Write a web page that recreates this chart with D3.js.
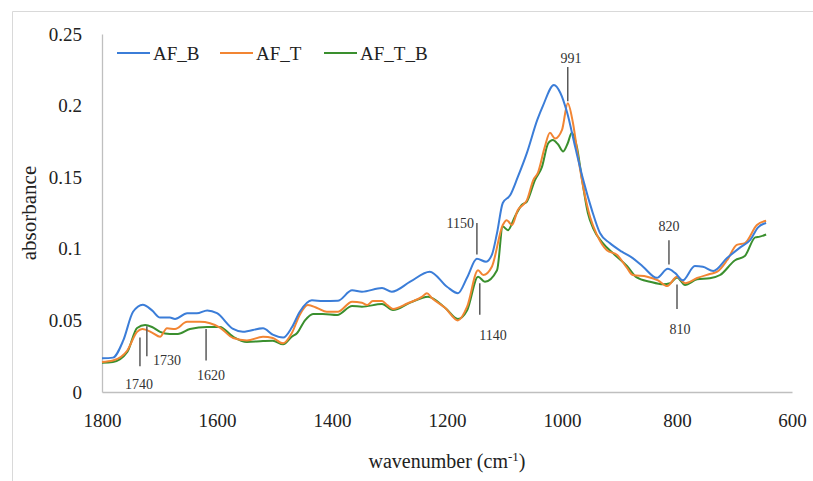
<!DOCTYPE html>
<html>
<head>
<meta charset="utf-8">
<script src="https://cdn.jsdelivr.net/npm/d3@7"></script>
<style>
html,body{margin:0;padding:0;background:#fff;}
svg{display:block;}
</style>
</head>
<body>
<svg id="chart" width="813" height="481"></svg>
<script>
// ---- data ----
const seriesNames = ["AF_B", "AF_T", "AF_T_B"];
const seriesColors = ["#3b7dd8", "#f28533", "#3a8f2e"];

const wnB = [1800,1781,1763,1746,1729,1713,1699,1682,1673,1652,1635,1617,1600,1572,1555,1520,1503,1485,1470,1456,1435,1416,1390,1365,1348,1313,1296,1264,1230,1200,1181,1165,1148,1132,1122,1113,1103,1090,1077,1061,1043,1033,1014,1003,991,977,963,948,934,917,896,877,859,835,816,803,790,769,755,737,713,690,673,659,645];
const absB = [0.0235,0.024,0.036,0.056,0.061,0.057,0.052,0.052,0.051,0.055,0.055,0.057,0.055,0.044,0.042,0.0445,0.040,0.038,0.045,0.056,0.064,0.0635,0.0637,0.071,0.070,0.0726,0.070,0.077,0.084,0.0735,0.069,0.080,0.093,0.091,0.0957,0.111,0.132,0.1375,0.150,0.167,0.190,0.200,0.2144,0.209,0.195,0.171,0.148,0.127,0.111,0.104,0.098,0.0935,0.0875,0.0797,0.086,0.083,0.078,0.088,0.0875,0.0845,0.0935,0.101,0.106,0.115,0.118];

const wnT = [1800,1781,1756,1739,1730,1713,1699,1687,1673,1652,1630,1612,1595,1572,1548,1520,1503,1485,1470,1456,1442,1426,1409,1390,1365,1348,1339,1329,1313,1304,1294,1268,1243,1235,1226,1203,1181,1165,1146,1137,1122,1103,1096,1087,1077,1068,1061,1050,1042,1030,1021,1012,1000,990,981,972,963,951,939,922,904,887,877,852,833,817,800,786,765,743,730,713,696,682,661,645];
const absT = [0.021,0.022,0.029,0.042,0.044,0.0415,0.0386,0.0445,0.044,0.049,0.049,0.048,0.045,0.0377,0.036,0.0386,0.0377,0.034,0.041,0.054,0.0607,0.0587,0.056,0.056,0.063,0.0624,0.0607,0.0635,0.0635,0.0607,0.058,0.062,0.0666,0.069,0.0655,0.0587,0.050,0.0596,0.085,0.0817,0.0875,0.1166,0.120,0.1166,0.127,0.1306,0.134,0.148,0.153,0.171,0.181,0.177,0.183,0.2017,0.188,0.164,0.143,0.122,0.1096,0.099,0.0957,0.0866,0.0817,0.0805,0.078,0.074,0.0805,0.076,0.0796,0.0824,0.084,0.092,0.1027,0.104,0.1166,0.1196];

const wnTB = [1800,1781,1756,1739,1725,1713,1699,1682,1668,1647,1617,1595,1572,1548,1520,1503,1485,1470,1461,1447,1433,1416,1391,1365,1348,1313,1294,1264,1233,1203,1181,1165,1146,1134,1113,1103,1094,1082,1070,1061,1047,1035,1024,1016,1007,998,990,983,974,965,955,946,929,908,887,870,847,824,812,800,786,765,743,725,699,682,664,656,645];
const absTB = [0.0205,0.021,0.028,0.0447,0.0468,0.0454,0.042,0.0405,0.0405,0.044,0.0454,0.0454,0.0386,0.035,0.0356,0.0358,0.0333,0.0386,0.041,0.050,0.0545,0.0545,0.0538,0.060,0.0596,0.0614,0.0572,0.0624,0.0666,0.0587,0.051,0.057,0.0805,0.077,0.085,0.1155,0.113,0.1224,0.1306,0.133,0.148,0.157,0.1737,0.176,0.173,0.168,0.1737,0.181,0.171,0.148,0.125,0.1145,0.104,0.0957,0.088,0.080,0.077,0.0752,0.0759,0.080,0.0747,0.0787,0.0794,0.0817,0.092,0.095,0.108,0.1085,0.110];

const xTicks = [1800,1600,1400,1200,1000,800,600];
const yTicks = [0,0.05,0.1,0.15,0.2,0.25];
const yTickLabels = ["0","0.05","0.1","0.15","0.2","0.25"];

// annotation marks: label, wavenumber of line, line top/bottom (absorbance), label placement
const annLabels = ["1740","1730","1620","1150","1140","991","820","810"];
const annWn =     [1734, 1722, 1619, 1148, 1143, 990, 814, 800];
const annTop =    [0.038, 0.046, 0.044, 0.118, 0.076, 0.227, 0.106, 0.075];
const annBot =    [0.018, 0.025, 0.022, 0.096, 0.054, 0.203, 0.089, 0.058];

// ---- chart ----
const svg = d3.select("#chart");
const font = "'Liberation Serif','DejaVu Serif',serif";
const x = d3.scaleLinear().domain([1800, 600]).range([102, 792]);
const y = d3.scaleLinear().domain([0, 0.25]).range([392, 34]);

// outer frame
svg.append("path").attr("d", "M12.5,481 L12.5,11.5 L813,11.5")
  .attr("fill", "none").attr("stroke", "#d9d9d9").attr("stroke-width", 1);

// axes
const xAxis = d3.axisBottom(x).tickValues(xTicks).tickSize(0).tickPadding(20).tickFormat(d3.format("d"));
const gx = svg.append("g").attr("transform", `translate(0,${y(0)})`).call(xAxis);
const yAxis = d3.axisLeft(y).tickValues(yTicks).tickSize(0).tickPadding(20)
  .tickFormat((d, i) => yTickLabels[i]);
const gy = svg.append("g").attr("transform", `translate(${x(1800)},0)`).call(yAxis);
[gx, gy].forEach(g => {
  g.select(".domain").attr("stroke", "#bfbfbf").attr("stroke-width", 1.3);
  g.selectAll("text").attr("font-family", font).attr("font-size", 19).attr("fill", "#222");
});
gx.selectAll("text").attr("dy", "0.71em").attr("y", 22);
gy.selectAll("text").attr("x", -20);

// axis titles
svg.append("text").attr("transform", "translate(36,213) rotate(-90)")
  .attr("text-anchor", "middle").attr("font-family", font).attr("font-size", 21).attr("fill", "#222")
  .text("absorbance");
const xt = svg.append("text").attr("x", 447).attr("y", 468)
  .attr("text-anchor", "middle").attr("font-family", font).attr("font-size", 20).attr("fill", "#222");
xt.append("tspan").text("wavenumber (cm");
xt.append("tspan").attr("dy", -7).attr("font-size", 13).text("-1");
xt.append("tspan").attr("dy", 7).text(")");

// lines
const line = d3.line().x(d => x(d[0])).y(d => y(d[1])).curve(d3.curveMonotoneX);
const allWn = [wnB, wnT, wnTB];
const allAbs = [absB, absT, absTB];
[2, 1, 0].forEach(i => {
  const pts = allWn[i].map((w, j) => [w, allAbs[i][j]]);
  svg.append("path").datum(pts).attr("d", line)
    .attr("fill", "none").attr("stroke", seriesColors[i]).attr("stroke-width", 2)
    .attr("stroke-linejoin", "round");
});

// annotations
const annColor = "#595959";
annLabels.forEach((lab, i) => {
  const lx = x(annWn[i]);
  svg.append("line").attr("x1", lx).attr("x2", lx)
    .attr("y1", y(annTop[i])).attr("y2", y(annBot[i]))
    .attr("stroke", annColor).attr("stroke-width", 1.5);
});
const annTextPos = [
  {x: 139, y: 384, a: "middle"},
  {x: 153, y: 360, a: "start"},
  {x: 211, y: 375, a: "middle"},
  {x: 474, y: 223, a: "end"},
  {x: 493, y: 335, a: "middle"},
  {x: 571, y: 58, a: "middle"},
  {x: 669, y: 226, a: "middle"},
  {x: 680, y: 329, a: "middle"}
];
annLabels.forEach((lab, i) => {
  svg.append("text").attr("x", annTextPos[i].x).attr("y", annTextPos[i].y)
    .attr("dy", "0.35em").attr("text-anchor", annTextPos[i].a)
    .attr("font-family", font).attr("font-size", 14).attr("fill", "#333").text(lab);
});

// legend
const legX = [117, 220, 324];
seriesNames.forEach((n, i) => {
  svg.append("line").attr("x1", legX[i]).attr("x2", legX[i] + 33).attr("y1", 53).attr("y2", 53)
    .attr("stroke", seriesColors[i]).attr("stroke-width", 2.2);
  svg.append("text").attr("x", legX[i] + 36).attr("y", 53).attr("dy", "0.35em")
    .attr("font-family", font).attr("font-size", 19).attr("fill", "#222").text(n);
});
</script>
</body>
</html>
